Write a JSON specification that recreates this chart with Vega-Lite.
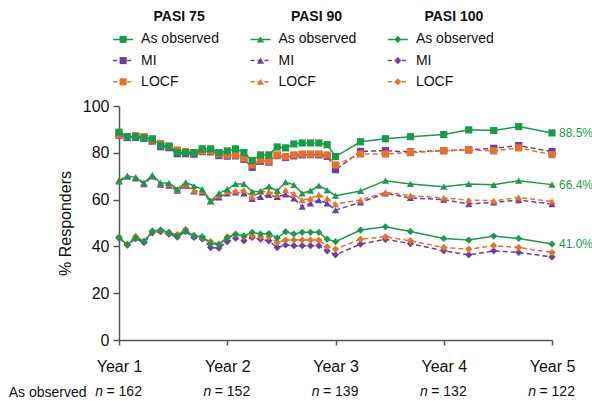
{
  "$schema": "https://vega.github.io/schema/vega-lite/v6.json",
  "padding": {"left": 8, "top": 5, "right": 0, "bottom": 0},
  "config": {"view": {"stroke": null}, "font": "Liberation Sans", "text": {"font": "Liberation Sans"}},
  "spacing": 3,
  "resolve": {"scale": {"x": "independent", "y": "independent", "color": "independent", "shape": "independent", "strokeDash": "independent"}},
  "datasets": {
    "series": [
      {"w": 0, "a75": 88.8, "m75": 87.5, "l75": 87.8, "a90": 68.1, "m90": 67.8, "l90": 68.1, "a100": 43.8, "m100": 43.5, "l100": 44.0},
      {"w": 4, "a75": 86.9, "m75": 86.5, "l75": 86.9, "a90": 70.1, "m90": 69.8, "l90": 70.1, "a100": 40.7, "m100": 40.5, "l100": 41.0},
      {"w": 8, "a75": 86.9, "m75": 86.6, "l75": 87.3, "a90": 69.5, "m90": 69.1, "l90": 69.5, "a100": 43.6, "m100": 43.3, "l100": 44.3},
      {"w": 12, "a75": 86.4, "m75": 86.2, "l75": 86.9, "a90": 67.1, "m90": 66.6, "l90": 67.0, "a100": 42.1, "m100": 41.6, "l100": 42.3},
      {"w": 16, "a75": 86.0, "m75": 85.0, "l75": 85.5, "a90": 70.5, "m90": 69.9, "l90": 70.3, "a100": 46.4, "m100": 45.8, "l100": 46.6},
      {"w": 20, "a75": 83.1, "m75": 82.6, "l75": 84.0, "a90": 67.1, "m90": 66.4, "l90": 66.9, "a100": 47.0, "m100": 46.3, "l100": 47.0},
      {"w": 24, "a75": 82.8, "m75": 82.2, "l75": 82.8, "a90": 67.1, "m90": 66.0, "l90": 66.6, "a100": 46.0, "m100": 45.2, "l100": 45.8},
      {"w": 28, "a75": 80.1, "m75": 79.6, "l75": 81.2, "a90": 64.5, "m90": 63.8, "l90": 64.3, "a100": 44.5, "m100": 44.0, "l100": 45.0},
      {"w": 32, "a75": 80.1, "m75": 79.6, "l75": 80.5, "a90": 67.4, "m90": 66.0, "l90": 66.5, "a100": 46.7, "m100": 46.3, "l100": 47.3},
      {"w": 36, "a75": 80.1, "m75": 79.4, "l75": 80.1, "a90": 65.8, "m90": 63.5, "l90": 63.8, "a100": 44.5, "m100": 43.8, "l100": 44.7},
      {"w": 40, "a75": 81.7, "m75": 80.5, "l75": 80.8, "a90": 64.5, "m90": 63.1, "l90": 63.7, "a100": 44.1, "m100": 43.2, "l100": 43.8},
      {"w": 44, "a75": 81.7, "m75": 80.4, "l75": 80.8, "a90": 59.5, "m90": 59.2, "l90": 59.2, "a100": 41.2, "m100": 39.5, "l100": 42.1},
      {"w": 48, "a75": 80.1, "m75": 78.8, "l75": 79.5, "a90": 62.7, "m90": 60.9, "l90": 61.7, "a100": 40.7, "m100": 39.3, "l100": 41.0},
      {"w": 52, "a75": 80.8, "m75": 78.6, "l75": 79.1, "a90": 64.5, "m90": 62.7, "l90": 63.5, "a100": 43.6, "m100": 42.0, "l100": 44.1},
      {"w": 56, "a75": 81.7, "m75": 78.7, "l75": 79.1, "a90": 66.7, "m90": 63.1, "l90": 63.8, "a100": 45.3, "m100": 43.5, "l100": 45.0},
      {"w": 60, "a75": 80.1, "m75": 77.2, "l75": 77.7, "a90": 66.7, "m90": 62.7, "l90": 64.1, "a100": 44.5, "m100": 42.4, "l100": 44.1},
      {"w": 64, "a75": 76.7, "m75": 73.8, "l75": 74.8, "a90": 63.4, "m90": 60.3, "l90": 61.2, "a100": 46.0, "m100": 43.8, "l100": 44.5},
      {"w": 68, "a75": 79.1, "m75": 76.4, "l75": 77.0, "a90": 63.6, "m90": 61.2, "l90": 63.4, "a100": 45.3, "m100": 43.1, "l100": 44.1},
      {"w": 72, "a75": 79.1, "m75": 76.0, "l75": 76.4, "a90": 65.7, "m90": 62.0, "l90": 63.4, "a100": 45.5, "m100": 42.4, "l100": 44.1},
      {"w": 76, "a75": 82.5, "m75": 78.8, "l75": 79.1, "a90": 63.8, "m90": 61.2, "l90": 62.1, "a100": 43.6, "m100": 39.5, "l100": 41.7},
      {"w": 80, "a75": 82.1, "m75": 78.0, "l75": 78.4, "a90": 67.5, "m90": 62.2, "l90": 64.1, "a100": 46.3, "m100": 40.6, "l100": 42.7},
      {"w": 84, "a75": 83.8, "m75": 78.7, "l75": 79.1, "a90": 66.3, "m90": 60.5, "l90": 62.4, "a100": 45.3, "m100": 40.3, "l100": 42.7},
      {"w": 88, "a75": 84.2, "m75": 79.1, "l75": 79.5, "a90": 62.7, "m90": 57.0, "l90": 59.8, "a100": 46.0, "m100": 40.3, "l100": 42.7},
      {"w": 92, "a75": 84.2, "m75": 79.2, "l75": 79.5, "a90": 63.8, "m90": 58.4, "l90": 60.5, "a100": 46.0, "m100": 40.3, "l100": 42.7},
      {"w": 96, "a75": 84.2, "m75": 79.1, "l75": 79.5, "a90": 66.0, "m90": 59.8, "l90": 62.1, "a100": 46.0, "m100": 40.3, "l100": 42.7},
      {"w": 100, "a75": 83.5, "m75": 78.5, "l75": 79.1, "a90": 64.1, "m90": 58.4, "l90": 60.5, "a100": 43.1, "m100": 38.1, "l100": 39.8},
      {"w": 104, "a75": 78.4, "m75": 72.8, "l75": 74.8, "a90": 61.7, "m90": 55.5, "l90": 58.1, "a100": 42.0, "m100": 36.4, "l100": 38.8},
      {"w": 116, "a75": 84.7, "m75": 80.6, "l75": 79.5, "a90": 63.7, "m90": 58.8, "l90": 59.8, "a100": 47.0, "m100": 41.0, "l100": 43.1},
      {"w": 128, "a75": 86.0, "m75": 80.9, "l75": 79.5, "a90": 68.1, "m90": 62.7, "l90": 63.1, "a100": 48.4, "m100": 43.0, "l100": 44.1},
      {"w": 140, "a75": 86.9, "m75": 80.4, "l75": 80.1, "a90": 66.7, "m90": 60.7, "l90": 61.7, "a100": 46.4, "m100": 41.2, "l100": 42.4},
      {"w": 156, "a75": 87.8, "m75": 80.9, "l75": 80.9, "a90": 65.5, "m90": 60.0, "l90": 60.7, "a100": 43.4, "m100": 38.1, "l100": 39.5},
      {"w": 168, "a75": 89.8, "m75": 81.3, "l75": 81.2, "a90": 66.7, "m90": 58.1, "l90": 59.8, "a100": 42.7, "m100": 36.4, "l100": 38.8},
      {"w": 180, "a75": 89.5, "m75": 81.9, "l75": 80.8, "a90": 66.3, "m90": 58.8, "l90": 59.5, "a100": 44.4, "m100": 38.1, "l100": 40.3},
      {"w": 192, "a75": 91.2, "m75": 83.1, "l75": 82.1, "a90": 68.1, "m90": 59.8, "l90": 60.9, "a100": 43.4, "m100": 37.4, "l100": 39.5},
      {"w": 208, "a75": 88.5, "m75": 80.5, "l75": 79.2, "a90": 66.4, "m90": 58.1, "l90": 59.2, "a100": 41.0, "m100": 35.5, "l100": 37.4}
    ],
    "legendItems": [
      {"pasi": "PASI 75", "method": "As observed"}, {"pasi": "PASI 75", "method": "MI"}, {"pasi": "PASI 75", "method": "LOCF"},
      {"pasi": "PASI 90", "method": "As observed"}, {"pasi": "PASI 90", "method": "MI"}, {"pasi": "PASI 90", "method": "LOCF"},
      {"pasi": "PASI 100", "method": "As observed"}, {"pasi": "PASI 100", "method": "MI"}, {"pasi": "PASI 100", "method": "LOCF"}
    ],
    "heads": [{"pasi": "PASI 75"}, {"pasi": "PASI 90"}, {"pasi": "PASI 100"}],
    "ends": [
      {"w": 208, "v": 88.5, "label": "88.5%"},
      {"w": 208, "v": 66.4, "label": "66.4%"},
      {"w": 208, "v": 41.0, "label": "41.0%"}
    ],
    "counts": [
      {"w": 0, "g": "As observed", "t": "= 162"},
      {"w": 52, "g": "As observed", "t": "= 152"},
      {"w": 104, "g": "As observed", "t": "= 139"},
      {"w": 156, "g": "As observed", "t": "= 132"},
      {"w": 208, "g": "As observed", "t": "= 122"}
    ]
  },
  "vconcat": [
    {
      "width": 283,
      "height": 90,
      "data": {"name": "legendItems"},
      "encoding": {
        "x": {"field": "pasi", "type": "nominal", "scale": {"type": "point", "domain": ["PASI 75", "PASI 90", "PASI 100"], "padding": 0.03}, "axis": null},
        "y": {"field": "method", "type": "nominal", "scale": {"type": "point", "domain": ["head", "As observed", "MI", "LOCF"], "padding": 0.623}, "axis": null}
      },
      "layer": [
        {
          "mark": {"type": "rule", "xOffset": -10, "x2Offset": 10, "strokeWidth": 1.5},
          "encoding": {
            "x2": {"field": "pasi"},
            "color": {"field": "method", "type": "nominal", "scale": {"domain": ["As observed", "MI", "LOCF"], "range": ["#1b9a4a", "#6b3fa0", "#e8702a"]}, "legend": null},
            "strokeDash": {"field": "method", "type": "nominal", "scale": {"domain": ["As observed", "MI", "LOCF"], "range": [[1, 0], [4, 3], [4, 3]]}, "legend": null}
          }
        },
        {
          "mark": {"type": "point", "filled": true, "size": 50, "opacity": 1},
          "encoding": {
            "shape": {"field": "pasi", "type": "nominal", "scale": {"domain": ["PASI 75", "PASI 90", "PASI 100"], "range": ["square", "triangle-up", "diamond"]}, "legend": null},
            "color": {"field": "method", "type": "nominal", "scale": {"domain": ["As observed", "MI", "LOCF"], "range": ["#1b9a4a", "#6b3fa0", "#e8702a"]}, "legend": null}
          }
        },
        {
          "mark": {"type": "text", "align": "left", "baseline": "middle", "dx": 18, "fontSize": 14, "color": "#111"},
          "encoding": {"text": {"field": "method"}}
        },
        {
          "data": {"name": "heads"},
          "mark": {"type": "text", "align": "center", "baseline": "middle", "dx": 56, "dy": -1, "fontSize": 14, "fontWeight": "bold", "color": "#111"},
          "encoding": {"y": {"datum": "head"}, "text": {"field": "pasi"}}
        }
      ]
    },
    {
      "width": 433,
      "height": 234,
      "data": {"name": "series"},
      "encoding": {
        "x": {"field": "w", "type": "quantitative", "scale": {"domain": [0, 208], "nice": false},
          "axis": {"values": [0, 52, 104, 156, 208], "labelExpr": "'Year ' + (datum.value / 52 + 1)", "title": null, "grid": false, "labelFontSize": 16, "labelFlush": false, "labelOverlap": false, "tickSize": 5, "labelPadding": 13, "domainColor": "#555", "tickColor": "#555", "domainWidth": 1.5, "tickWidth": 1.5, "labelColor": "#111"}},
        "y": {"field": "v", "type": "quantitative", "scale": {"domain": [0, 100], "nice": false},
          "axis": {"values": [0, 20, 40, 60, 80, 100], "title": "% Responders", "grid": false, "labelFontSize": 16, "tickSize": 6, "labelPadding": 4, "titleFontSize": 16, "titleFontWeight": "normal", "titlePadding": 9, "titleColor": "#111", "domainColor": "#555", "tickColor": "#555", "domainWidth": 1.5, "tickWidth": 1.5, "labelColor": "#111"}}
      },
      "layer": [
        {
          "transform": [{"fold": ["m75", "m90", "m100"], "as": ["k", "v"]}],
          "layer": [
            {"mark": {"type": "line", "color": "#6b3fa0", "strokeWidth": 1.5, "strokeDash": [5, 3]}, "encoding": {"detail": {"field": "k"}}},
            {"mark": {"type": "point", "filled": true, "opacity": 1, "size": 52, "color": "#6b3fa0"},
              "encoding": {"shape": {"field": "k", "type": "nominal", "scale": {"domain": ["a75", "m75", "l75", "a90", "m90", "l90", "a100", "m100", "l100"], "range": ["square", "square", "square", "triangle-up", "triangle-up", "triangle-up", "diamond", "diamond", "diamond"]}, "legend": null}}}
          ]
        },
        {
          "transform": [{"fold": ["l75", "l90", "l100"], "as": ["k", "v"]}],
          "layer": [
            {"mark": {"type": "line", "color": "#e8702a", "strokeWidth": 1.5, "strokeDash": [5, 3]}, "encoding": {"detail": {"field": "k"}}},
            {"mark": {"type": "point", "filled": true, "opacity": 1, "size": 52, "color": "#e8702a"},
              "encoding": {"shape": {"field": "k", "type": "nominal", "scale": {"domain": ["a75", "m75", "l75", "a90", "m90", "l90", "a100", "m100", "l100"], "range": ["square", "square", "square", "triangle-up", "triangle-up", "triangle-up", "diamond", "diamond", "diamond"]}, "legend": null}}}
          ]
        },
        {
          "transform": [{"fold": ["a75", "a90", "a100"], "as": ["k", "v"]}],
          "layer": [
            {"mark": {"type": "line", "color": "#1b9a4a", "strokeWidth": 1.5}, "encoding": {"detail": {"field": "k"}}},
            {"mark": {"type": "point", "filled": true, "opacity": 1, "size": 52, "color": "#1b9a4a"},
              "encoding": {"shape": {"field": "k", "type": "nominal", "scale": {"domain": ["a75", "m75", "l75", "a90", "m90", "l90", "a100", "m100", "l100"], "range": ["square", "square", "square", "triangle-up", "triangle-up", "triangle-up", "diamond", "diamond", "diamond"]}, "legend": null}}}
          ]
        },
        {
          "data": {"name": "ends"},
          "mark": {"type": "text", "align": "left", "baseline": "middle", "dx": 7, "fontSize": 12, "color": "#1b9a4a"},
          "encoding": {"text": {"field": "label"}}
        }
      ]
    },
    {
      "width": 433,
      "height": 30,
      "data": {"name": "counts"},
      "encoding": {
        "x": {"field": "w", "type": "quantitative", "scale": {"domain": [0, 208], "nice": false}, "axis": null},
        "y": {"field": "g", "type": "nominal", "axis": {"title": null, "domain": false, "ticks": false, "labelFontSize": 14, "labelPadding": 33, "labelColor": "#111"}}
      },
      "layer": [
        {"mark": {"type": "text", "align": "right", "baseline": "middle", "dx": -16, "fontSize": 14, "fontStyle": "italic", "color": "#111"}, "encoding": {"text": {"value": "n"}}},
        {"mark": {"type": "text", "align": "left", "baseline": "middle", "dx": -12.5, "fontSize": 14, "color": "#111"}, "encoding": {"text": {"field": "t"}}}
      ]
    }
  ]
}
